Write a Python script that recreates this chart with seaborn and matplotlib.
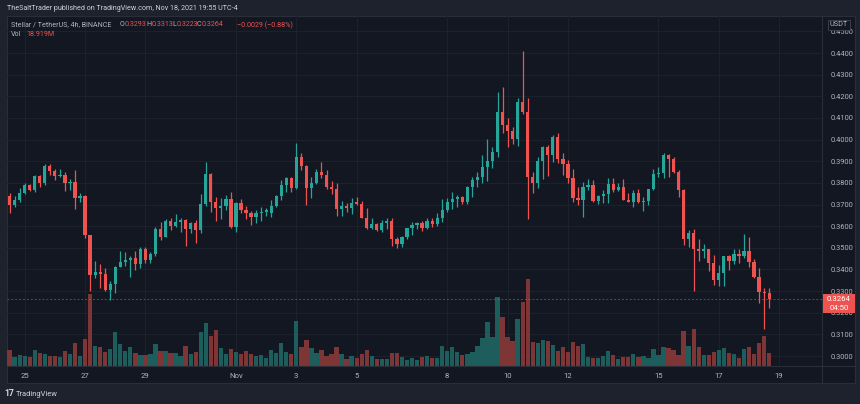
import numpy as np
import pandas as pd
import matplotlib
matplotlib.use("Agg")
import matplotlib.pyplot as plt
import matplotlib.transforms as mtransforms
from matplotlib.patches import Rectangle
from matplotlib.lines import Line2D
import seaborn as sns

# ---------------- data (4h candles, Stellar / TetherUS, Binance) ----------------
start_time = "2021-10-24 08:00"
opens = [
    .3790, .3738, .3700, .3723, .3754, .3788, .3769, .3831, .3800, .3880,
    .3857, .3831, .3838, .3800, .3806, .3731, .3738, .3557, .3373, .3387,
    .3377, .3304, .3335, .3412, .3433, .3443, .3451, .3425, .3494, .3443,
    .3470, .3587, .3551, .3623, .3603, .3619, .3628, .3587, .3616, .3582,
    .3702, .3841, .3713, .3685, .3693, .3724, .3598, .3705, .3674, .3662,
    .3644, .3659, .3665, .3662, .3695, .3741, .3790, .3824, .3775, .3918,
    .3878, .3775, .3801, .3852, .3836, .3782, .3770, .3679, .3693, .3684,
    .3710, .3704, .3640, .3590, .3608, .3582, .3613, .3624, .3540, .3517,
    .3548, .3590, .3605, .3613, .3593, .3625, .3610, .3636, .3677, .3713,
    .3725, .3736, .3713, .3779, .3813, .3829, .3872, .3901, .3942, .4126,
    .4067, .4042, .4003, .4172, .4126, .3829, .3798, .3903, .3967, .3929,
    .4012, .3909, .3887, .3822, .3732, .3722, .3779, .3788, .3716, .3741,
    .3747, .3793, .3767, .3779, .3722, .3713, .3751, .3710, .3716, .3772,
    .3841, .3847, .3929, .3910, .3852, .3767, .3539, .3567, .3494, .3486,
    .3493, .3428, .3351, .3382, .3462, .3441, .3470, .3462, .3483, .3436,
    .3366, .3295, .3293,
]
highs = [
    .3795, .3754, .3738, .3777, .3800, .3797, .3837, .3838, .3885, .3886,
    .3862, .3865, .3849, .3818, .3858, .3754, .3746, .3561, .3441, .3423,
    .3407, .3349, .3418, .3484, .3480, .3460, .3487, .3502, .3505, .3482,
    .3597, .3620, .3631, .3640, .3656, .3636, .3631, .3621, .3628, .3748,
    .3898, .3844, .3736, .3732, .3744, .3759, .3713, .3726, .3693, .3672,
    .3674, .3687, .3682, .3721, .3744, .3813, .3829, .3829, .3986, .3936,
    .3882, .3829, .3862, .3898, .3859, .3810, .3798, .3718, .3708, .3728,
    .3736, .3718, .3682, .3640, .3613, .3628, .3640, .3639, .3551, .3554,
    .3593, .3621, .3621, .3624, .3640, .3636, .3659, .3725, .3728, .3756,
    .3744, .3739, .3785, .3829, .3852, .3929, .4002, .3964, .4221, .4244,
    .4098, .4057, .4194, .4409, .4191, .3852, .3918, .3970, .3975, .4021,
    .4029, .3936, .3906, .3863, .3782, .3806, .3816, .3813, .3744, .3767,
    .3824, .3821, .3801, .3816, .3754, .3767, .3774, .3736, .3772, .3862,
    .3875, .3939, .3933, .3918, .3860, .3770, .3582, .3585, .3543, .3517,
    .3495, .3467, .3420, .3464, .3466, .3494, .3493, .3562, .3548, .3447,
    .3405, .3313, .3313,
]
lows = [
    .3735, .3661, .3689, .3711, .3749, .3763, .3760, .3781, .3792, .3838,
    .3812, .3829, .3761, .3769, .3681, .3711, .3546, .3300, .3361, .3315,
    .3299, .3258, .3292, .3410, .3418, .3367, .3397, .3405, .3431, .3431,
    .3462, .3536, .3548, .3582, .3597, .3575, .3509, .3567, .3520, .3570,
    .3693, .3664, .3625, .3631, .3675, .3590, .3572, .3662, .3631, .3605,
    .3613, .3625, .3647, .3644, .3690, .3721, .3759, .3759, .3771, .3859,
    .3698, .3728, .3795, .3821, .3770, .3748, .3647, .3647, .3667, .3656,
    .3699, .3636, .3587, .3585, .3579, .3574, .3587, .3510, .3497, .3505,
    .3543, .3559, .3585, .3579, .3587, .3594, .3600, .3621, .3664, .3679,
    .3690, .3702, .3702, .3736, .3782, .3798, .3811, .3867, .3921, .4029,
    .3967, .3980, .3970, .4118, .3632, .3755, .3775, .3816, .3832, .3898,
    .3893, .3836, .3801, .3710, .3698, .3644, .3767, .3713, .3702, .3708,
    .3708, .3756, .3762, .3720, .3710, .3690, .3708, .3670, .3698, .3767,
    .3829, .3824, .3829, .3844, .3736, .3513, .3505, .3302, .3440, .3451,
    .3393, .3328, .3323, .3323, .3397, .3425, .3428, .3451, .3413, .3359,
    .3243, .3123, .3223,
]
closes = [
    .3738, .3700, .3723, .3754, .3788, .3769, .3831, .3800, .3880, .3857,
    .3831, .3838, .3800, .3806, .3731, .3738, .3557, .3373, .3387, .3377,
    .3304, .3335, .3412, .3433, .3443, .3451, .3425, .3494, .3443, .3470,
    .3587, .3551, .3623, .3603, .3619, .3628, .3587, .3616, .3582, .3702,
    .3841, .3713, .3685, .3693, .3724, .3598, .3705, .3674, .3662, .3644,
    .3659, .3665, .3676, .3695, .3741, .3790, .3824, .3775, .3918, .3878,
    .3775, .3801, .3852, .3836, .3782, .3770, .3679, .3693, .3684, .3708,
    .3704, .3640, .3590, .3608, .3582, .3613, .3624, .3540, .3517, .3548,
    .3590, .3605, .3613, .3593, .3625, .3610, .3636, .3677, .3713, .3725,
    .3736, .3713, .3779, .3813, .3829, .3872, .3901, .3942, .4126, .4067,
    .4042, .4003, .4172, .4126, .3829, .3798, .3903, .3967, .3929, .4012,
    .3909, .3887, .3822, .3732, .3722, .3779, .3788, .3716, .3741, .3747,
    .3793, .3767, .3779, .3722, .3713, .3751, .3710, .3716, .3772, .3841,
    .3847, .3929, .3910, .3852, .3767, .3539, .3567, .3494, .3486, .3493,
    .3428, .3351, .3382, .3462, .3441, .3470, .3462, .3483, .3436, .3366,
    .3295, .3293, .3264,
]
volumes_m = [
    28.0, 24.0, 14.0, 16.5, 15.0, 13.0, 24.0, 19.0, 18.0, 15.0,
    15.0, 14.0, 23.0, 18.0, 34.0, 15.0, 40.5, 108.0, 30.0, 29.0,
    21.5, 25.5, 51.0, 33.0, 23.0, 28.0, 19.0, 16.5, 16.5, 18.0,
    32.5, 23.0, 22.5, 20.0, 19.0, 15.5, 30.5, 18.0, 21.5, 50.5,
    64.0, 45.5, 54.0, 27.0, 18.0, 25.0, 21.5, 18.0, 23.0, 18.0,
    15.5, 16.5, 12.5, 24.0, 20.0, 34.0, 20.5, 18.0, 67.5, 28.0,
    39.0, 26.5, 20.0, 24.0, 15.0, 18.0, 28.0, 17.5, 10.0, 15.0,
    12.5, 18.0, 24.0, 15.5, 10.0, 10.5, 10.5, 19.0, 19.0, 13.0,
    9.0, 11.5, 9.0, 13.0, 15.0, 11.5, 12.5, 30.0, 23.0, 28.0,
    21.5, 16.5, 17.5, 21.5, 30.0, 41.5, 65.5, 43.0, 103.0, 74.0,
    44.0, 37.0, 70.0, 96.5, 130.5, 36.0, 34.0, 39.0, 37.0, 31.5,
    22.5, 29.0, 20.5, 35.5, 30.5, 33.0, 14.0, 12.5, 12.5, 15.0,
    22.5, 16.5, 10.0, 14.0, 14.0, 18.0, 13.0, 15.5, 11.5, 25.5,
    16.5, 29.0, 26.5, 24.0, 16.5, 52.5, 30.0, 55.5, 29.0, 16.5,
    16.5, 21.5, 24.0, 27.5, 20.0, 17.5, 11.5, 25.5, 29.0, 17.5,
    34.0, 45.0, 18.9,
]
tick_days = ["2021-10-25", "2021-10-27", "2021-10-29", "2021-11-01", "2021-11-03",
             "2021-11-05", "2021-11-08", "2021-11-10", "2021-11-12", "2021-11-15",
             "2021-11-17", "2021-11-19"]
tick_labels = ["25", "27", "29", "Nov", "3", "5", "8", "10", "12", "15", "17", "19"]
price_ticks = [0.30, 0.31, 0.32, 0.33, 0.34, 0.35, 0.36, 0.37, 0.38, 0.39,
               0.40, 0.41, 0.42, 0.43, 0.44, 0.45]
last_price = 0.3264
countdown = "04:50"

# ---------------- styling ----------------
BG = "#131722"
FRAME = "#1e222d"
BORDER = "#2a2e39"
GRID = "#1d212c"
TXT = "#b2b5be"
UP = "#26a69a"
DOWN = "#ef5350"
VUP = "#1d5e5d"
VDOWN = "#7e3536"

sns.set_theme(style="dark")
plt.rcParams["font.family"] = ["Roboto", "DejaVu Sans"]

W, H = 860, 404
fig = plt.figure(figsize=(W / 100, H / 100), dpi=100, facecolor=FRAME)

def fx(px):
    return px / W

def fy(py):
    return 1 - py / H

def hide_ticks(a):
    a.tick_params(axis="both", bottom=False, top=False, left=False, right=False,
                  labelbottom=False, labeltop=False, labelleft=False, labelright=False)

# background panel (chart + axes area)
bg = fig.add_axes([fx(7), fy(383), fx(855 - 7), (383 - 16) / H], zorder=0)
bg.set_facecolor(BG)
bg.set_xticks([]); bg.set_yticks([])
hide_ticks(bg)
for s in bg.spines.values():
    s.set_color(BORDER); s.set_linewidth(0.8)

# data frame
times = pd.date_range(start_time, periods=len(opens), freq="4h")
origin = pd.Timestamp("2021-10-25 00:00")
df = pd.DataFrame({"time": times, "open": opens, "high": highs, "low": lows,
                   "close": closes, "vol": volumes_m})
df["pos"] = (df["time"] - origin) / pd.Timedelta(hours=4)
df["dir"] = np.where(df["close"] >= df["open"], "up", "down")
tick_pos = [(pd.Timestamp(d) - origin) / pd.Timedelta(hours=4) for d in tick_days]

pane = [fx(7), fy(366), fx(822 - 7), (366 - 16) / H]
ax = fig.add_axes(pane, zorder=3)
ax.patch.set_alpha(0)
vax = fig.add_axes(pane, zorder=2, sharex=ax)
vax.patch.set_alpha(0)
gax = fig.add_axes(pane, zorder=1, sharex=ax)
gax.patch.set_alpha(0)

# volume bars with seaborn
sns.barplot(data=df, x="pos", y="vol", hue="dir", palette={"up": VUP, "down": VDOWN},
            native_scale=True, dodge=False, width=0.86, errorbar=None,
            saturation=1, linewidth=0, legend=False, ax=vax)
vax.set_ylim(0, 350 * 1.5)
vax.set_xlabel(""); vax.set_ylabel("")
hide_ticks(vax)
for s in vax.spines.values():
    s.set_visible(False)

# candles
colors = np.where(df["dir"] == "up", UP, DOWN)
ax.vlines(df["pos"], df["low"], df["high"], colors=colors, linewidth=0.9, zorder=3)
body_low = np.minimum(df["open"], df["close"])
body_h = np.maximum(np.abs(df["close"] - df["open"]), 0.00045)
ax.bar(df["pos"], body_h, bottom=body_low, width=0.64, color=colors, linewidth=0, zorder=4)

# current price line
ax.axhline(last_price, color=DOWN, alpha=0.55, linewidth=0.7, linestyle=(0, (2, 2)), zorder=2)

ylim = (0.2954, 0.4571)
xlim = ((7 - 24.7) / 5.03, (822 - 24.7) / 5.03)
ax.set_ylim(*ylim)
gax.set_ylim(*ylim)

# grid lines (back axes, behind volume)
for p in price_ticks:
    gax.axhline(p, color=GRID, linewidth=0.8, zorder=0)
for t in tick_pos:
    gax.axvline(t, color=GRID, linewidth=0.8, zorder=0)
gax.grid(False)
hide_ticks(gax)
for s in gax.spines.values():
    s.set_visible(False)

# axes ticks
ax.set_xticks(tick_pos)
ax.set_xticklabels(tick_labels)
ax.set_yticks(price_ticks)
ax.set_yticklabels([f"{p:.4f}" for p in price_ticks])
ax.yaxis.tick_right()
ax.tick_params(axis="y", length=0, pad=6, labelsize=5.4, labelcolor=TXT)
ax.tick_params(axis="x", length=0, pad=5, labelsize=5.6, labelcolor=TXT)
ax.grid(False)
for s in ax.spines.values():
    s.set_visible(False)
ax.set_xlim(*xlim)

# separators
fig.add_artist(Line2D([fx(822), fx(822)], [fy(16), fy(383)], color=BORDER, linewidth=0.8, zorder=5))
fig.add_artist(Line2D([fx(7), fx(855)], [fy(366), fy(366)], color=BORDER, linewidth=0.8, zorder=5))

# last price tag
tr = mtransforms.blended_transform_factory(fig.transFigure, ax.transData)
px_per_price = 2164.0
tag_top = last_price + 4.5 / px_per_price
tag_h = 18.5 / px_per_price
fig.add_artist(Rectangle((fx(823), tag_top - tag_h), fx(855 - 823), tag_h,
                         transform=tr, facecolor=DOWN, edgecolor="none", zorder=6))
fig.text(fx(839), last_price, f"{last_price:.4f}", transform=tr, color="white", fontsize=5.6,
         ha="center", va="center", zorder=7)
fig.text(fx(839), last_price - 9 / px_per_price, countdown, transform=tr, color="white",
         fontsize=5.6, ha="center", va="center", zorder=7)

# USDT unit label
fig.text(fx(839), fy(25), "USDT", color=TXT, fontsize=5.2, ha="center", va="center", zorder=8,
         bbox=dict(boxstyle="square,pad=0.25", facecolor=BG, edgecolor="#434651", linewidth=0.6))

# header texts
HFS = 5.1
fig.text(fx(7), fy(9), "TheSaltTrader published on TradingView.com, Nov 18, 2021 19:55 UTC-4",
         color="#d1d4dc", fontsize=HFS, ha="left", va="center")
legend_parts = [
    (11, "Stellar / TetherUS, 4h, BINANCE", TXT),
    (119.5, "O", TXT), (124.5, "0.3293", DOWN),
    (146.5, "H", TXT), (151.5, "0.3313", DOWN),
    (172.5, "L", TXT), (176.5, "0.3223", DOWN),
    (196.5, "C", TXT), (201.5, "0.3264", DOWN),
    (237, "\u22120.0029 (\u22120.88%)", DOWN),
]
for x, s, c in legend_parts:
    fig.text(fx(x), fy(25), s, color=c, fontsize=HFS, ha="left", va="center", zorder=8)
fig.text(fx(11), fy(35), "Vol", color=TXT, fontsize=HFS, ha="left", va="center", zorder=8)
fig.text(fx(26), fy(35), "18.919M", color=DOWN, fontsize=HFS, ha="left", va="center", zorder=8)

# footer logo
fig.text(fx(4), fy(394), "17", color="#d1d4dc", fontsize=6.2, fontweight="bold",
         ha="left", va="center")
fig.text(fx(16), fy(394), "TradingView", color="#d1d4dc", fontsize=5.4, ha="left", va="center")

fig.savefig("out.png", dpi=100, facecolor=FRAME)
